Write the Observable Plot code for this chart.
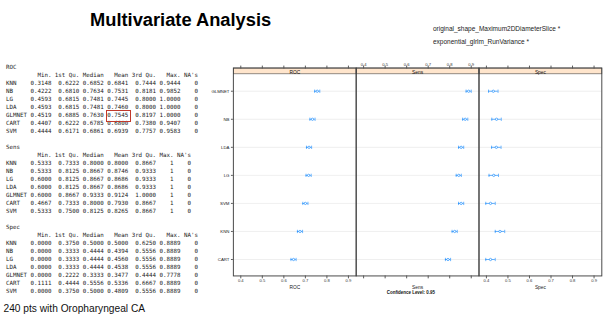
<!DOCTYPE html>
<html><head><meta charset="utf-8">
<script src="https://cdn.jsdelivr.net/npm/d3@7"></script>
<script src="https://cdn.jsdelivr.net/npm/@observablehq/plot@0.6"></script>
<style>
html,body{margin:0;padding:0;background:#fff;}
body{width:611px;height:321px;overflow:hidden;position:relative;font-family:"Liberation Sans",Arial,sans-serif;}
#title{position:absolute;left:90px;top:11px;font-weight:bold;font-size:18.3px;line-height:1;color:#000;white-space:nowrap;}
.note{position:absolute;left:433px;font-size:6.5px;line-height:1;color:#222;white-space:nowrap;}
#table{position:absolute;left:6px;top:62.7px;margin:0;font-family:"DejaVu Sans Mono",monospace;font-size:5.81px;line-height:8px;color:#222;white-space:pre;}
#box{position:absolute;left:106px;top:109.5px;width:23px;height:10px;border:0.9px solid #c0392b;}
#caption{position:absolute;left:3.5px;top:303px;font-size:10.2px;line-height:1.15;color:#111;white-space:nowrap;}
#chart{position:absolute;left:200px;top:54px;}
</style></head>
<body>
<div id="title">Multivariate Analysis</div>
<div class="note" style="top:26px">original_shape_Maximum2DDiameterSlice *</div>
<div class="note" style="top:38.5px">exponential_glrlm_RunVariance *</div>
<pre id="table"></pre>
<div id="box"></div>
<div id="caption">240 pts with Oropharyngeal CA</div>
<div id="chart"></div>
<script>
// ---------- summary table (text) ----------
const tableNames = ["KNN","NB","LG","LDA","GLMNET","CART","SVM"];
const rocMin  = ["0.3148","0.4222","0.4593","0.4593","0.4519","0.4407","0.4444"];
const rocQ1   = ["0.6222","0.6810","0.6815","0.6815","0.6885","0.6222","0.6171"];
const rocMed  = ["0.6852","0.7634","0.7481","0.7481","0.7630","0.6785","0.6861"];
const rocMeanT= ["0.6841","0.7531","0.7445","0.7460","0.7545","0.6800","0.6939"];
const rocQ3   = ["0.7444","0.8181","0.8000","0.8000","0.8197","0.7380","0.7757"];
const rocMax  = ["0.9444","0.9852","1.0000","1.0000","1.0000","0.9407","0.9583"];
const sensMin = ["0.5333","0.5333","0.6000","0.6000","0.6000","0.4667","0.5333"];
const sensQ1  = ["0.7333","0.8125","0.8125","0.8125","0.8667","0.7333","0.7500"];
const sensMed = ["0.8000","0.8667","0.8667","0.8667","0.9333","0.8000","0.8125"];
const sensMeanT=["0.8000","0.8746","0.8686","0.8686","0.9124","0.7930","0.8265"];
const sensQ3  = ["0.8667","0.9333","0.9333","0.9333","1.0000","0.8667","0.8667"];
const sensMax = ["1","1","1","1","1","1","1"];
const specMin = ["0.0000","0.0000","0.0000","0.0000","0.0000","0.1111","0.0000"];
const specQ1  = ["0.3750","0.3333","0.3333","0.3333","0.2222","0.4444","0.3750"];
const specMed = ["0.5000","0.4444","0.4444","0.4444","0.3333","0.5556","0.5000"];
const specMeanT=["0.5000","0.4394","0.4560","0.4538","0.3477","0.5336","0.4809"];
const specQ3  = ["0.6250","0.5556","0.5556","0.5556","0.4444","0.6667","0.5556"];
const specMax = ["0.8889","0.8889","0.8889","0.8889","0.7778","0.8889","0.8889"];
const naCount = ["0","0","0","0","0","0","0"];
const headers = ["Min.","1st Qu.","Median","Mean","3rd Qu.","Max.","NA's"];

function block(title, cols){
  const widths = cols.map((c,i)=>Math.max(headers[i].length, ...c.map(v=>v.length)));
  const lines = [title];
  lines.push("      " + headers.map((h,i)=>" "+h.padStart(widths[i])).join(""));
  tableNames.forEach((n,r)=>{
    lines.push(n.padEnd(6) + cols.map((c,i)=>" "+c[r].padStart(widths[i])).join(""));
  });
  return lines.join("\n");
}
document.getElementById("table").textContent = [
  block("ROC", [rocMin,rocQ1,rocMed,rocMeanT,rocQ3,rocMax,naCount]),
  block("Sens",[sensMin,sensQ1,sensMed,sensMeanT,sensQ3,sensMax,naCount]),
  block("Spec",[specMin,specQ1,specMed,specMeanT,specQ3,specMax,naCount])
].join("\n\n");

// ---------- dotplot data ----------
const models  = ["GLMNET","NB","LDA","LG","SVM","KNN","CART"];
const metrics = ["ROC","Sens","Spec"];
const rocMean  = [0.755,0.733,0.717,0.715,0.700,0.675,0.645];
const rocLo    = [0.743,0.721,0.705,0.703,0.688,0.663,0.633];
const rocHi    = [0.767,0.745,0.729,0.727,0.712,0.687,0.657];
const sensMean = [0.888,0.872,0.853,0.842,0.853,0.823,0.792];
const sensLo   = [0.876,0.860,0.841,0.830,0.841,0.811,0.780];
const sensHi   = [0.900,0.884,0.865,0.854,0.865,0.835,0.804];
const specMean = [0.432,0.447,0.446,0.434,0.419,0.463,0.419];
const specLo   = [0.410,0.425,0.424,0.412,0.397,0.441,0.397];
const specHi   = [0.454,0.469,0.468,0.456,0.441,0.485,0.441];
const xTicks = [0.4,0.5,0.6,0.7,0.8,0.9];
const xDomain = [0.3655,0.936];

const means=[rocMean,sensMean,specMean], los=[rocLo,sensLo,specLo], his=[rocHi,sensHi,specHi];
const rows=[];
metrics.forEach((m,i)=>models.forEach((md,j)=>rows.push({metric:m,model:md,mean:means[i][j],lo:los[i][j],hi:his[i][j]})));
const bottomLabels=[], topLabels=[];
xTicks.forEach(v=>{
  bottomLabels.push({metric:"ROC",v});
  topLabels.push({metric:"Sens",v});
  bottomLabels.push({metric:"Spec",v});
});

const blue="#0080ff";
const vbar={draw(ctx){ctx.moveTo(0,-1.7);ctx.lineTo(0,1.7);}};
const H=255, mT=14, mB=26, frameH=H-mT-mB, stripH=6;

const chart = Plot.plot({
  width:425, height:H, marginLeft:34, marginRight:10, marginTop:mT, marginBottom:mB,
  style:{fontFamily:"Liberation Sans, Arial, sans-serif", fontSize:"4.3px", color:"#222", background:"transparent", overflow:"visible"},
  fx:{domain:metrics, padding:0, axis:null},
  x:{domain:xDomain},
  y:{type:"point", domain:models, padding:0.6, insetTop:stripH},
  marks:[
    Plot.ruleY(models,{y:d=>d, stroke:"#e4e4e4", strokeWidth:0.6}),
    Plot.frame({fill:"#ffe5cc", insetBottom:frameH-stripH}),
    Plot.frame({stroke:"#444", strokeWidth:0.6, insetBottom:frameH-stripH}),
    Plot.text(metrics,{fx:d=>d, text:d=>d, frameAnchor:"top", dy:3, fontSize:5, fill:"#111"}),
    Plot.frame({stroke:"#444", strokeWidth:1}),
    Plot.axisX({anchor:"bottom", ticks:xTicks, tickSize:3, tickFormat:()=>"", stroke:"#555", label:null}),
    Plot.axisX({anchor:"top", ticks:xTicks, tickSize:3, tickFormat:()=>"", stroke:"#555", label:null}),
    Plot.text(bottomLabels,{fx:"metric", x:"v", text:d=>d.v.toFixed(1), frameAnchor:"bottom", dy:6.5, fill:"#333"}),
    Plot.text(topLabels,{fx:"metric", x:"v", text:d=>d.v.toFixed(1), frameAnchor:"top", dy:-5, fill:"#333"}),
    Plot.axisY({anchor:"left", tickSize:2, tickPadding:2, stroke:"#555", fontSize:4.5, label:null}),
    Plot.ruleY(rows,{fx:"metric", y:"model", x1:"lo", x2:"hi", stroke:blue, strokeWidth:0.6}),
    Plot.dot(rows,{fx:"metric", x:"lo", y:"model", symbol:vbar, stroke:blue, strokeWidth:0.6}),
    Plot.dot(rows,{fx:"metric", x:"hi", y:"model", symbol:vbar, stroke:blue, strokeWidth:0.6}),
    Plot.dot(rows,{fx:"metric", x:"mean", y:"model", r:1.2, stroke:blue, fill:"white", strokeWidth:0.6}),
    Plot.text(metrics,{fx:d=>d, text:d=>d, frameAnchor:"bottom", dy:13.5, fontSize:5, fill:"#222"}),
    Plot.text(["Sens"],{fx:d=>d, text:()=>"Confidence Level: 0.95", frameAnchor:"bottom", dy:18.5, dx:-7, fontSize:4.6, fontWeight:"bold", fill:"#111"})
  ]
});
document.getElementById("chart").appendChild(chart);
</script>
</body></html>
